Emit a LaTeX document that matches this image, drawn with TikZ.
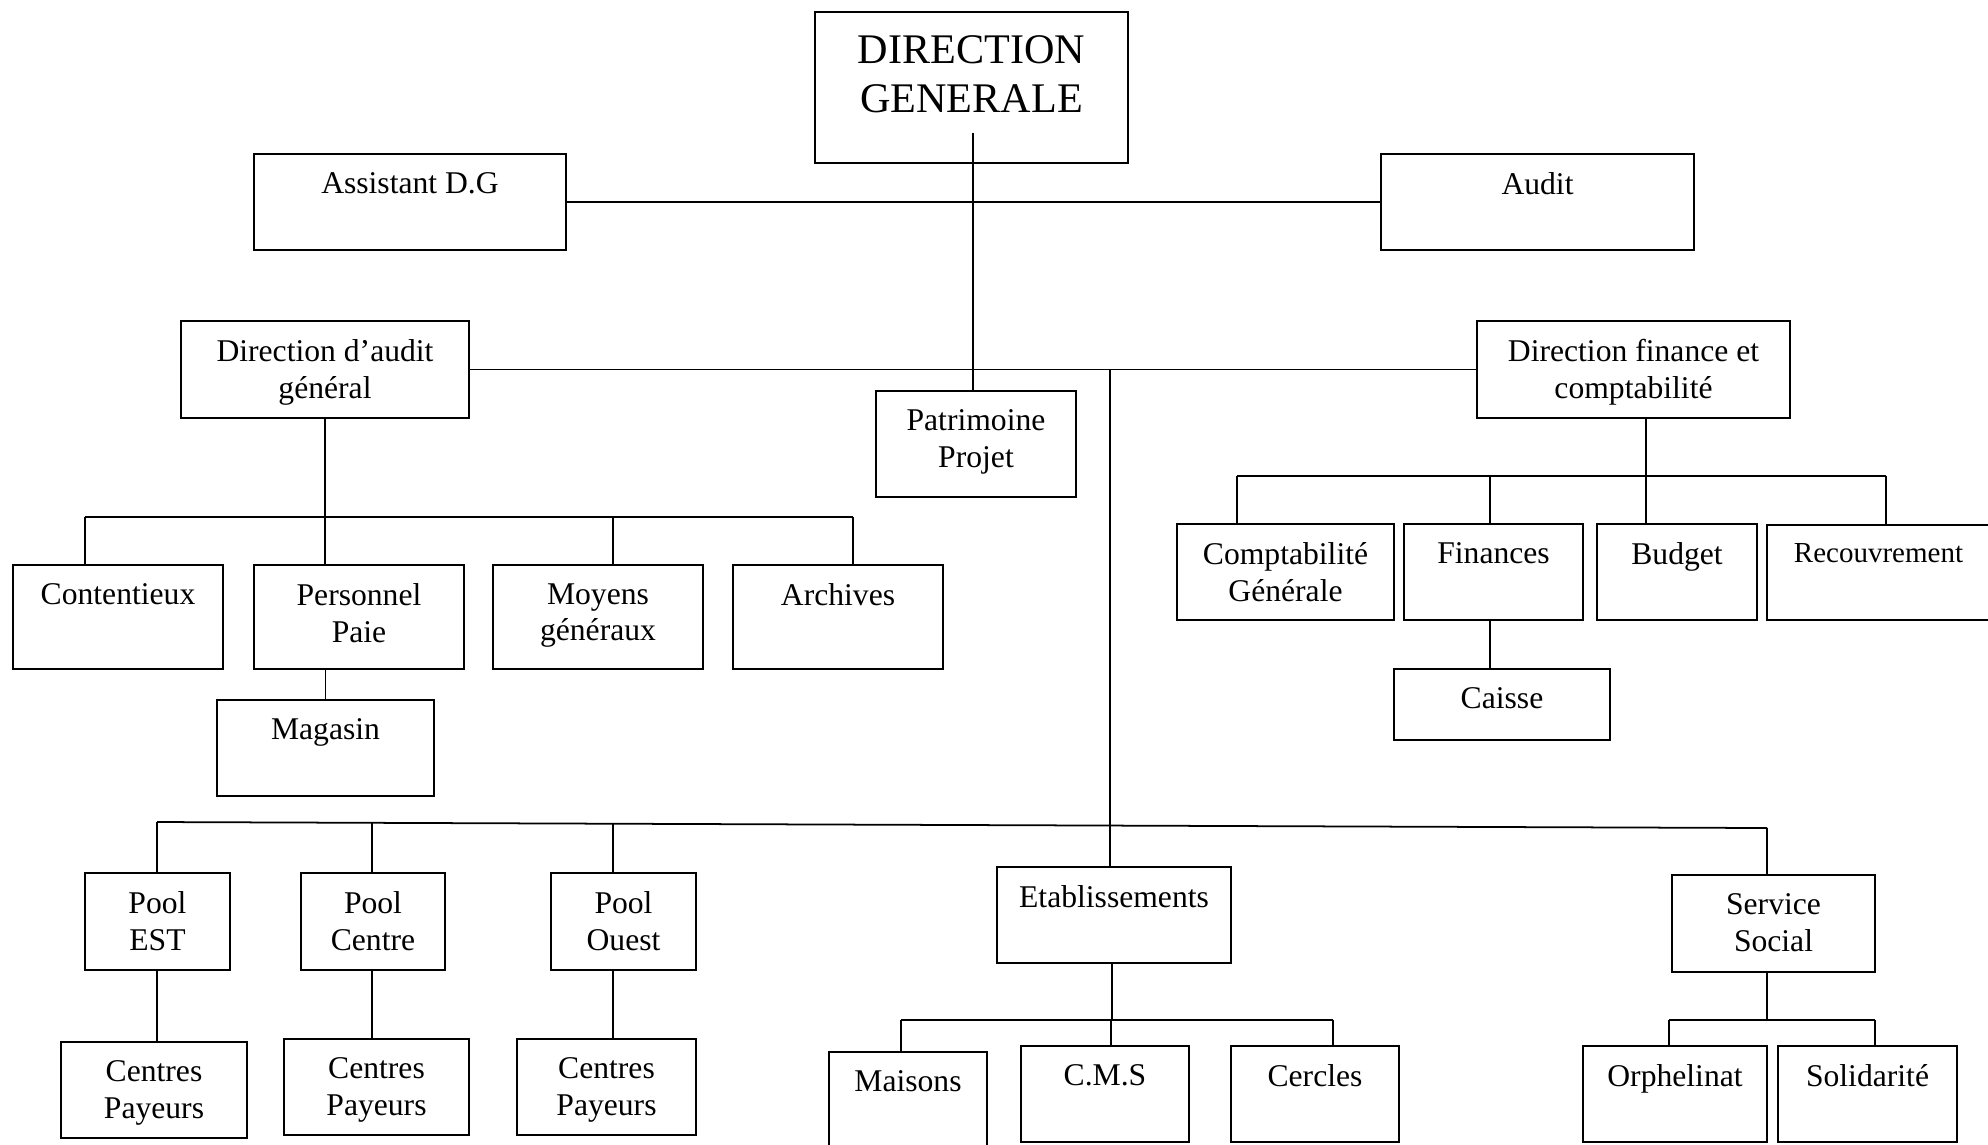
\documentclass[tikz,border=0pt]{standalone}
\usepackage{fontspec}
\setmainfont{Liberation Serif}
\usetikzlibrary{fit}
\tikzset{
	unitbox/.style={draw, line width=0.65pt, inner sep=0pt},
	unittext/.style={anchor=north, inner sep=0pt, align=center, font=\fontsize{9}{10.4}\selectfont},
	link/.style={line width=0.5pt},
}
% box from (x1,y1) to (x2,y2), text hung from its top edge
\newcommand{\orgunit}[7][]{%
	\node[unitbox, fit={(#3,#4) (#5,#6)}] (#2) {};
	\node[unittext, #1] (#2-t) at ([yshift=-1.9mm]#2.north) {#7};}

\begin{document}
\begin{tikzpicture}[x=0.1mm, y=-0.1mm]
				%%%%% START %%%%%
				\useasboundingbox (0,0) rectangle (1988,1144);
				
				\orgunit[font=\fontsize{12}{13.9}\selectfont, yshift=-0.5mm]{dg}{815}{12}{1128}{163}{DIRECTION\\GENERALE}
				\orgunit{asst}{254}{154}{566}{250}{Assistant D.G}
				\orgunit{audit}{1381}{154}{1694}{250}{Audit}
				
				\orgunit{dag}{181}{321}{469}{418}{Direction d’audit\\général}
				\orgunit{dfc}{1477}{321}{1790}{418}{Direction finance et\\comptabilité}
				\orgunit{patr}{876}{391}{1076}{497}{Patrimoine\\Projet}
				
				\orgunit{cont}{13}{565}{223}{669}{Contentieux}
				\orgunit{pers}{254}{565}{464}{669}{Personnel\\Paie}
				\orgunit{moy}{493}{565}{703}{669}{Moyens\\généraux}
				\orgunit{arch}{733}{565}{943}{669}{Archives}
				\orgunit{mag}{217}{700}{434}{796}{Magasin}
				
				\orgunit{comp}{1177}{524}{1394}{620}{Comptabilité\\Générale}
				\orgunit{fin}{1404}{524}{1583}{620}{Finances}
				\orgunit{budg}{1597}{524}{1757}{620}{Budget}
				\orgunit[font=\fontsize{8.25}{9.5}\selectfont]{recv}{1767}{525}{1990}{620}{Recouvrement}
				\orgunit{caisse}{1394}{669}{1610}{740}{Caisse}
				
				\orgunit{poolE}{85}{873}{230}{970}{Pool\\EST}
				\orgunit{poolC}{301}{873}{445}{970}{Pool\\Centre}
				\orgunit{poolO}{551}{873}{696}{970}{Pool\\Ouest}
				\orgunit{cp1}{61}{1042}{247}{1138}{Centres\\Payeurs}
				\orgunit{cp2}{284}{1039}{469}{1135}{Centres\\Payeurs}
				\orgunit{cp3}{517}{1039}{696}{1135}{Centres\\Payeurs}
				
				\orgunit{etab}{997}{867}{1231}{963}{Etablissements}
				\orgunit{mais}{829}{1052}{987}{1160}{Maisons}
				\orgunit{cms}{1021}{1046}{1189}{1142}{C.M.S}
				\orgunit{cerc}{1231}{1046}{1399}{1142}{Cercles}
				
				\orgunit{soc}{1672}{875}{1875}{972}{Service\\Social}
				\orgunit{orph}{1583}{1046}{1767}{1142}{Orphelinat}
				\orgunit{sol}{1778}{1046}{1957}{1142}{Solidarité}
				
				% top links
				\coordinate (dgfoot) at (973,133);
				\draw[link] (dgfoot) -- (dgfoot |- patr.north);
				\draw[link] (asst) -- (audit);
				\draw[link] (dag) -- (dfc);
				\coordinate (trunk) at (1110,370);
				\draw[link] (trunk) -- (trunk |- etab.north);
				
				% audit general
				\coordinate (dagL) at (85,517);
				\coordinate (dagR) at (853,517);
				\draw[link] (dag.south) -- (dag.south |- dagL);
				\draw[link] (dagL) -- (dagR);
				\foreach \x/\n in {85/cont,325/pers,613/moy,853/arch}
					\draw[link] (\x,517) -- (\x,0 |- \n.north);
				\draw[link] (mag.north) -- (mag.north |- pers.south);
				
				% finance
				\coordinate (dfcL) at (1237,476);
				\coordinate (dfcR) at (1886,476);
				\draw[link] (1646,0 |- dfc.south) -- (1646,476);
				\draw[link] (dfcL) -- (dfcR);
				\foreach \x/\n in {1237/comp,1490/fin,1646/budg,1886/recv}
					\draw[link] (\x,476) -- (\x,0 |- \n.north);
				\draw[link] (1490,0 |- fin.south) -- (1490,0 |- caisse.north);
				
				% lower bus
				\coordinate (busL) at (157,822);
				\coordinate (busR) at (1767,828);
				\draw[link] (busL) -- (busR);
				\foreach \x/\y/\n in {157/822/poolE,372/823/poolC,613/824/poolO,1767/828/soc}
					\draw[link] (\x,\y) -- (\x,0 |- \n.north);
				\foreach \x/\a/\b in {157/poolE/cp1,372/poolC/cp2,613/poolO/cp3}
					\draw[link] (\x,0 |- \a.south) -- (\x,0 |- \b.north);
				
				% etablissements
				\coordinate (etabL) at (901,1020);
				\coordinate (etabR) at (1333,1020);
				\draw[link] (1112,0 |- etab.south) -- (1112,1020);
				\draw[link] (etabL) -- (etabR);
				\foreach \x/\n in {901/mais,1111/cms,1333/cerc}
					\draw[link] (\x,1020) -- (\x,0 |- \n.north);
				
				% service social
				\coordinate (socL) at (1669,1020);
				\coordinate (socR) at (1875,1020);
				\draw[link] (soc.south -| 1767,0) -- (1767,1020);
				\draw[link] (socL) -- (socR);
				\foreach \x/\n in {1669/orph,1875/sol}
					\draw[link] (\x,1020) -- (\x,0 |- \n.north);
				%%%%% END %%%%%
\end{tikzpicture}
\end{document}
